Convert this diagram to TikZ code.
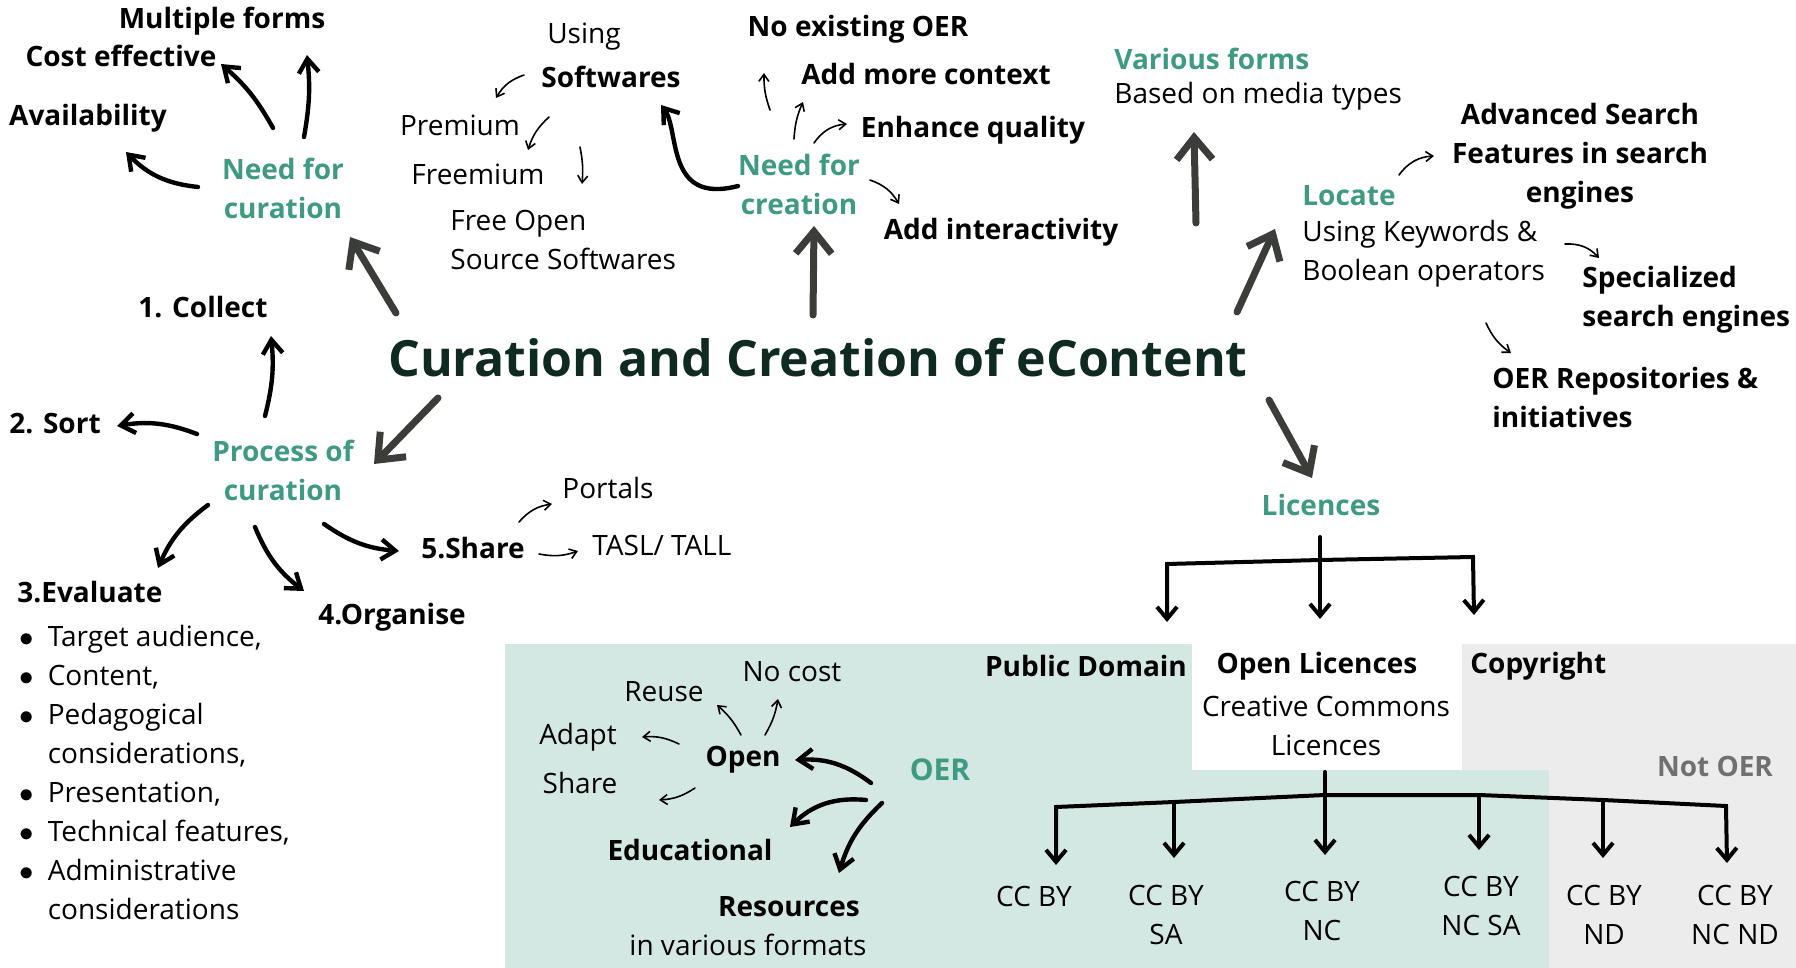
\documentclass[tikz,border=0pt]{standalone}
\usepackage{fontspec}
\setmainfont{Open Sans}
\usetikzlibrary{arrows.meta}
\definecolor{cgreen}{HTML}{3E9A82}
\definecolor{ctitle}{HTML}{0E2A22}
\definecolor{cbig}{HTML}{3B3D38}
\definecolor{cteal}{HTML}{D3E8E2}
\definecolor{cgrey}{HTML}{ECECEC}
\definecolor{cnot}{HTML}{707070}
\begin{document}
\begin{tikzpicture}[x=0.5pt,y=-0.5pt,
 lbl/.style={inner sep=0pt, align=center, font=\fontsize{14}{19.5}\selectfont},
 blbl/.style={lbl, font=\fontsize{14}{19.5}\selectfont\bfseries},
 glbl/.style={blbl, text=cgreen},
 bigarrow/.style={draw=cbig, line width=3.5pt, line cap=round, line join=round, -{Straight Barb[length=11pt,width=18pt]}},
 midarrow/.style={draw=black, line width=2.2pt, line cap=round, -{Straight Barb[length=7pt,width=10pt]}},
 smallarrow/.style={draw=black, line width=0.8pt, line cap=round, -{Straight Barb[length=3.5pt,width=5pt]}},
 treeline/.style={draw=black, line width=2pt, line cap=round, line join=miter},
 treetip/.tip={Straight Barb[length=6pt,width=10pt]},
 treearrow/.style={treeline, -treetip},
]
\useasboundingbox (0,0) rectangle (1796,968);
% backgrounds
\fill[cteal] (505,644) rectangle (1192,968);
\fill[cteal] (1192,770) rectangle (1549,968);
\fill[cgrey] (1462,644) rectangle (1796,770);
\fill[cgrey] (1549,770) rectangle (1796,968);

% title
\node[blbl, text=ctitle, font=\fontsize{25}{30}\selectfont\bfseries] (T) at (818,358) {Curation and Creation of eContent};

% need for curation
\node[blbl] (mult) at (222,21) {Multiple forms};
\node[blbl] (cost) at (121,56) {Cost effective};
\node[blbl] (avail) at (88,118) {Availability};
\node[glbl] (ncur) at (283,188) {Need for\\curation};

% softwares
\node[lbl] (using) at (584,37) {Using};
\node[blbl] (soft) at (611,77) {Softwares};
\node[lbl] (prem) at (460,125) {Premium};
\node[lbl] (free) at (478,174) {Freemium};
\node[lbl, anchor=west, align=left] (foss) at (450,240) {Free Open\\Source Softwares};

% need for creation
\node[glbl] (ncre) at (799,184) {Need for\\creation};
\node[blbl] (noer) at (858,29) {No existing OER};
\node[blbl] (ctx) at (926,74) {Add more context};
\node[blbl] (enh) at (973,130) {Enhance quality};
\node[blbl] (inter) at (1001,232) {Add interactivity};

% various forms
\node[glbl, anchor=west] (var) at (1114,59) {Various forms};
\node[lbl, anchor=west] (media) at (1114,96) {Based on media types};

% locate
\node[glbl, anchor=west] (loc) at (1302,196) {Locate};
\node[lbl, anchor=west, align=left] (kw) at (1302,254) {Using Keywords \&\\Boolean operators};
\node[blbl] (adv) at (1580,156) {Advanced Search\\Features in search\\engines};
\node[blbl, anchor=west, align=left] (spec) at (1582,300) {Specialized\\search engines};
\node[blbl, anchor=west, align=left] (repo) at (1492,398) {OER Repositories \&\\initiatives};

% licences
\node[glbl] (lic) at (1321,505) {Licences};
\node[blbl] (pd) at (1086,666) {Public Domain};
\node[blbl] (ol) at (1317,666) {Open Licences};
\node[lbl] (cc) at (1326,726) {Creative Commons\\Licences};
\node[blbl, anchor=west] (copy) at (1470,666) {Copyright};
\node[blbl, text=cnot] (notoer) at (1715,766) {Not OER};
\node[lbl] (cc1) at (1034,896) {CC BY};
\node[lbl] (cc2) at (1166,915) {CC BY\\SA};
\node[lbl] (cc3) at (1322,911) {CC BY\\NC};
\node[lbl] (cc4) at (1481,906) {CC BY\\NC SA};
\node[lbl] (cc5) at (1604,915) {CC BY\\ND};
\node[lbl] (cc6) at (1735,915) {CC BY\\NC ND};

% OER
\node[glbl, font=\fontsize{15}{19.5}\selectfont\bfseries] (oer) at (940,770) {OER};
\node[blbl] (open) at (743,760) {Open};
\node[blbl] (edu) at (690,850) {Educational};
\node[blbl] (res) at (789,907) {Resources};
\node[lbl] (fmt) at (748,945) {in various formats};
\node[lbl] (nocost) at (792,672) {No cost};
\node[lbl] (reuse) at (664,692) {Reuse};
\node[lbl] (adapt) at (578,737) {Adapt};
\node[lbl] (share) at (580,783) {Share};

% process of curation
\node[glbl] (pcur) at (283,470) {Process of\\curation};
\node[blbl] (coll) at (203,307) {1. Collect};
\node[blbl, anchor=west] (sort) at (9,424) {2. Sort};
\node[blbl, anchor=west] (eval) at (17,592) {3.Evaluate};
\node[lbl, anchor=west] (crit) at (19,775) {\begin{tabular}{@{}c@{\hspace{7pt}}l@{}}
$\bullet$ & Target audience,\\
$\bullet$ & Content,\\
$\bullet$ & Pedagogical\\
 & considerations,\\
$\bullet$ & Presentation,\\
$\bullet$ & Technical features,\\
$\bullet$ & Administrative\\
 & considerations
\end{tabular}};
\node[blbl] (org) at (392,617) {4.Organise};
\node[blbl] (shr) at (473,548) {5.Share};
\node[lbl] (port) at (608,488) {Portals};
\node[lbl, anchor=west] (tasl) at (592,545) {TASL/ TALL};

% big arrows from title
\draw[bigarrow] ([shift={(-422,-45)}]T.center) -- ([shift={(67,49)}]ncur.center);
\draw[bigarrow] ([shift={(-380,40)}]T.center) -- ([shift={(91,-6)}]pcur.center);
\draw[bigarrow] ([shift={(-5,-43)}]T.center) -- ([shift={(15,42)}]ncre.center);
\draw[bigarrow] ([shift={(378,-135)}]T.center) -- ([shift={(80,73)}]var.west);
\draw[bigarrow] ([shift={(419,-46)}]T.center) -- ([shift={(-27,33)}]loc.west);
\draw[bigarrow] ([shift={(451,42)}]T.center) -- ([shift={(-9,-27)}]lic.center);

% need for curation arrows
\draw[midarrow] ([shift={(-85,-1)}]ncur.center) to[bend left=20] ([shift={(38,34)}]avail.center);
\draw[midarrow] ([shift={(-10,-60)}]ncur.center) to[bend right=10] ([shift={(100,8)}]cost.center);
\draw[midarrow] ([shift={(21,-51)}]ncur.center) to[bend right=8] ([shift={(85,34)}]mult.center);

% process arrows
\draw[midarrow] ([shift={(-18,-54)}]pcur.center) to[bend right=10] ([shift={(68,29)}]coll.center);
\draw[midarrow] ([shift={(-86,-36)}]pcur.center) to[bend right=15] ([shift={(108,2)}]sort.west);
\draw[midarrow] ([shift={(-75,35)}]pcur.center) to[bend right=15] ([shift={(141,-24)}]eval.west);
\draw[midarrow] ([shift={(-28,57)}]pcur.center) to[bend right=15] ([shift={(-88,-26)}]org.center);
\draw[midarrow] ([shift={(41,54)}]pcur.center) to[bend right=15] ([shift={(-74,3)}]shr.center);
\draw[smallarrow] ([shift={(46,-26)}]shr.center) to[bend left=20] ([shift={(-56,16)}]port.center);
\draw[smallarrow] ([shift={(66,6)}]shr.center) to[bend right=15] ([shift={(-14,6)}]tasl.west);

% softwares arrows
\draw[smallarrow] ([shift={(-87,-2)}]soft.center) to[bend right=20] ([shift={(36,-27)}]prem.center);
\draw[smallarrow] ([shift={(89,-8)}]prem.center) to[bend right=15] ([shift={(50,-24)}]free.center);
\draw[smallarrow] ([shift={(102,-27)}]free.center) to[bend left=8] ([shift={(132,-56)}]foss.west);
\draw[midarrow] ([shift={(-61,2)}]ncre.center) .. controls (665,205) and (680,130) .. ([shift={(50,28)}]soft.center);

% need for creation arrows
\draw[smallarrow] ([shift={(-29,-74)}]ncre.center) to[bend left=10] ([shift={(-94,44)}]noer.center);
\draw[smallarrow] ([shift={(-5,-45)}]ncre.center) to[bend left=10] ([shift={(-123,28)}]ctx.center);
\draw[smallarrow] ([shift={(15,-41)}]ncre.center) to[bend left=25] ([shift={(-126,-6)}]enh.center);
\draw[smallarrow] ([shift={(71,-4)}]ncre.center) to[bend left=20] ([shift={(-102,-28)}]inter.center);

% locate arrows
\draw[smallarrow] ([shift={(97,-21)}]loc.west) to[bend left=25] ([shift={(-146,0)}]adv.center);
\draw[smallarrow] ([shift={(263,-10)}]kw.west) to[bend left=25] ([shift={(17,-42)}]spec.west);
\draw[smallarrow] ([shift={(184,69)}]kw.west) to[bend right=15] ([shift={(19,-45)}]repo.west);

% licence trees
\coordinate (pdtip) at (1167,622);
\coordinate (cptip) at (1474,615);
\coordinate (oltip) at (1320,619);
\draw[treeline, treetip-treetip] (pdtip) -- (1167,564) -- (1320,560) -- (1473,557) -- (cptip);
\draw[treearrow] ([shift={(-1,32)}]lic.center) -- (oltip);

\coordinate (t1) at (1056,865);
\coordinate (t6) at (1727,863);
\coordinate (j2) at (1174,802);
\coordinate (j4) at (1479,795);
\coordinate (j5) at (1603,800);
\coordinate (t2) at (1174,858);
\coordinate (t3) at (1325,855);
\coordinate (t4) at (1479,850);
\coordinate (t5) at (1603,858);
\draw[treeline, treetip-treetip] (t1) -- (1056,807) -- (j2) -- (1325,795) -- (j4) -- (j5) -- (1726,806) -- (t6);
\draw[treearrow] (j2) -- (t2);
\draw[treearrow] ([shift={(-1,46)}]cc.center) -- (t3);
\draw[treearrow] (j4) -- (t4);
\draw[treearrow] (j5) -- (t5);

% OER arrows
\draw[midarrow] ([shift={(-69,13)}]oer.center) to[bend right=20] ([shift={(52,0)}]open.center);
\draw[midarrow] ([shift={(-74,30)}]oer.center) to[bend right=25] ([shift={(100,-23)}]edu.center);
\draw[midarrow] ([shift={(-58,33)}]oer.center) to[bend right=15] ([shift={(50,-34)}]res.center);
\draw[smallarrow] ([shift={(-2,-25)}]open.center) to[bend right=10] ([shift={(53,13)}]reuse.center);
\draw[smallarrow] ([shift={(22,-25)}]open.center) to[bend right=10] ([shift={(-14,27)}]nocost.center);
\draw[smallarrow] ([shift={(-64,-16)}]open.center) to[bend right=15] ([shift={(64,0)}]adapt.center);
\draw[smallarrow] ([shift={(-48,28)}]open.center) to[bend left=15] ([shift={(79,17)}]share.center);
\end{tikzpicture}
\end{document}
